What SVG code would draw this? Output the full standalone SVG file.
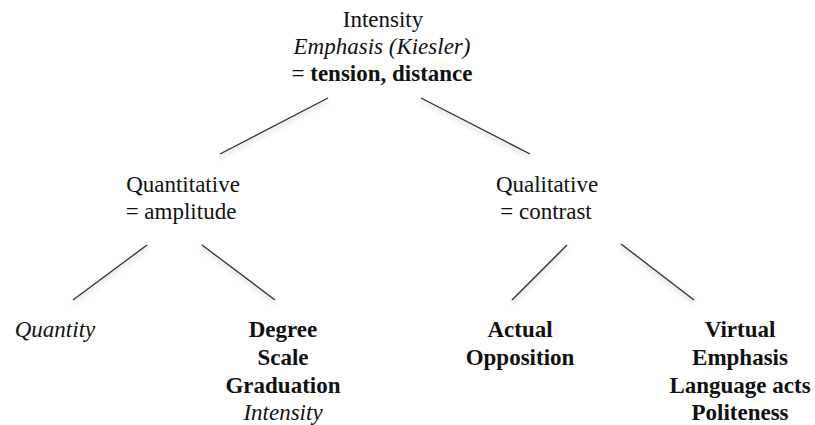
<svg xmlns="http://www.w3.org/2000/svg" width="815" height="425" viewBox="0 0 815 425">
<style>
text{font-family:'Liberation Serif',Tinos,Times,'DejaVu Serif',serif;font-size:23px;fill:#111;text-anchor:middle}
.i{font-style:italic}
.b{font-weight:bold}
.c line{stroke:#333;stroke-width:1.4}
</style>
<defs>
<filter id="sh" x="-20%" y="-20%" width="140%" height="140%">
<feDropShadow dx="0" dy="3" stdDeviation="2" flood-color="#000" flood-opacity="0.25"/>
</filter>
</defs>
<rect width="815" height="425" fill="#fff"/>
<g class="c" filter="url(#sh)">
<line x1="328" y1="98" x2="220" y2="154"/>
<line x1="421" y1="98" x2="530" y2="154"/>
<line x1="147" y1="245" x2="73" y2="300"/>
<line x1="202" y1="245" x2="275" y2="300"/>
<line x1="567" y1="245" x2="512" y2="300"/>
<line x1="621" y1="244" x2="694" y2="300"/>
</g>
<g id="intensity">
<text x="383" y="27">Intensity</text>
<text x="382" y="54" class="i">Emphasis (Kiesler)</text>
<text x="382" y="81">= <tspan class="b">tension, distance</tspan></text>
</g>
<g id="quantitative">
<text x="183" y="192">Quantitative</text>
<text x="181" y="219">= amplitude</text>
</g>
<g id="qualitative">
<text x="547" y="192">Qualitative</text>
<text x="546" y="219">= contrast</text>
</g>
<g id="quantity">
<text x="55" y="337" class="i">Quantity</text>
</g>
<g id="degree">
<text x="283" y="337" class="b">Degree</text>
<text x="283" y="365" class="b">Scale</text>
<text x="283" y="393" class="b">Graduation</text>
<text x="283" y="420" class="i">Intensity</text>
</g>
<g id="actual">
<text x="520" y="337" class="b">Actual</text>
<text x="520" y="365" class="b">Opposition</text>
</g>
<g id="virtual">
<text x="740" y="337" class="b">Virtual</text>
<text x="740" y="365" class="b">Emphasis</text>
<text x="740" y="393" class="b">Language acts</text>
<text x="740" y="420" class="b">Politeness</text>
</g>
</svg>
